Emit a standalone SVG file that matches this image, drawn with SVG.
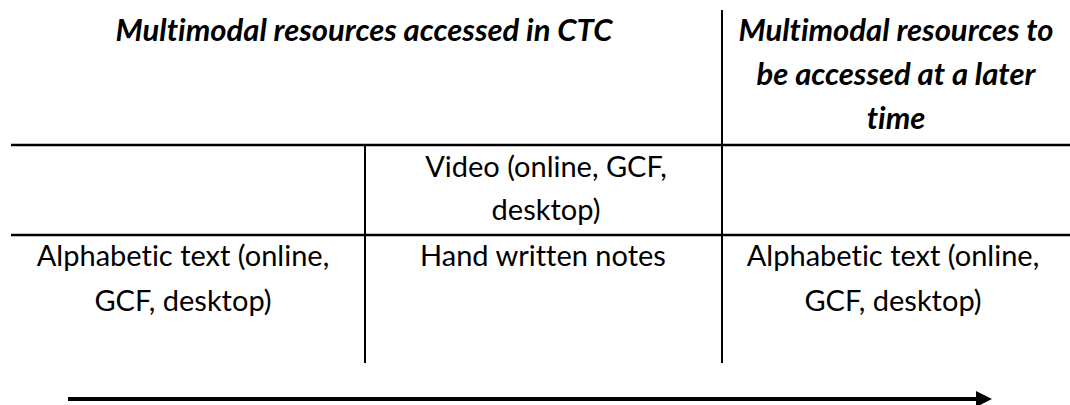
<svg xmlns="http://www.w3.org/2000/svg" width="1070" height="405" viewBox="0 0 1070 405">
<style>
.h{font-family:Lato,"Open Sans","Liberation Sans",sans-serif;font-weight:bold;font-style:italic;font-size:31px;fill:#000;text-anchor:middle;font-variant-ligatures:none}
.t{font-family:Lato,"Open Sans","Liberation Sans",sans-serif;font-size:29px;fill:#000;text-anchor:middle;font-variant-ligatures:none}
.ln{stroke:#000;stroke-width:2;fill:none}
.bl{stroke:#000;stroke-width:2.5;fill:none}
.ar{stroke:#000;stroke-width:4;fill:none}
</style>
<defs>
<marker id="ah" markerWidth="16" markerHeight="16" refX="1" refY="8" orient="auto" markerUnits="userSpaceOnUse">
<path d="M0,0 L16,8 L0,16 Z" fill="#000"/>
</marker>
</defs>
<g id="grid">
<line class="ln" x1="722" y1="10" x2="722" y2="363"/>
<line class="ln" x1="365" y1="145" x2="365" y2="363"/>
<line class="bl" x1="11" y1="145" x2="1070" y2="145"/>
<line class="bl" x1="11" y1="235" x2="1070" y2="235"/>
</g>
<g id="header-ctc"><text class="h" x="364" y="41">Multimodal resources accessed in CTC</text></g>
<g id="header-later">
<text class="h" x="896" y="41">Multimodal resources to</text>
<text class="h" x="896" y="85">be accessed at a later</text>
<text class="h" x="896" y="129">time</text>
</g>
<g id="video"><text class="t" x="546" y="177">Video (online, GCF,</text><text class="t" x="546" y="220">desktop)</text></g>
<g id="alpha1"><text class="t" x="183" y="266">Alphabetic text (online,</text><text class="t" x="183" y="311">GCF, desktop)</text></g>
<g id="notes"><text class="t" x="543" y="266">Hand written notes</text></g>
<g id="alpha2"><text class="t" x="893" y="266">Alphabetic text (online,</text><text class="t" x="893" y="311">GCF, desktop)</text></g>
<g id="connectors">
<line class="ar" x1="68" y1="399" x2="977" y2="399" marker-end="url(#ah)"/>
</g>
</svg>
